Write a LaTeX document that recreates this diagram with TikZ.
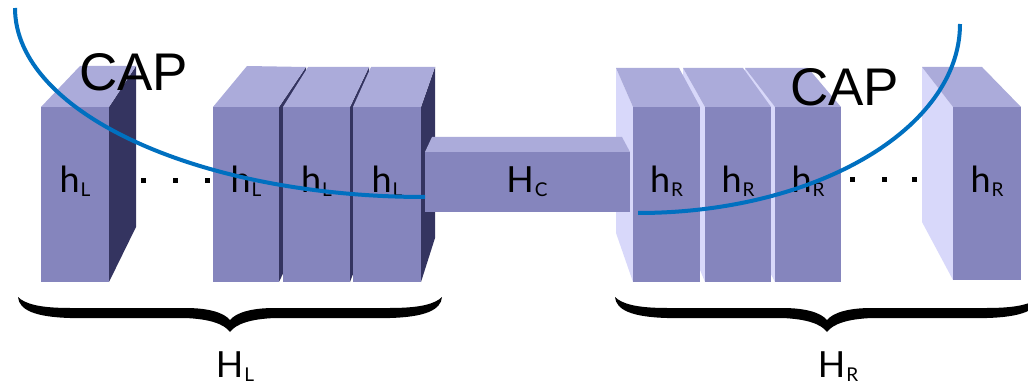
\documentclass[tikz,border=0pt]{standalone}
\usepackage{fontspec}
\setmainfont{Lato}
\newfontfamily\capfont{Liberation Sans}
\definecolor{frontc}{RGB}{133,133,189}
\definecolor{topc}{RGB}{171,171,218}
\definecolor{darkside}{RGB}{52,52,96}
\definecolor{lightside}{RGB}{216,216,250}
\definecolor{capblue}{RGB}{0,112,192}
\newcommand{\lbl}[2]{{\fontsize{36}{36}\selectfont #1\kern1pt\raisebox{-4pt}{\fontsize{19}{19}\selectfont #2}}}
\begin{document}
\begin{tikzpicture}[x=1pt,y=-1pt,
  frontface/.style={fill=frontc},
  topface/.style={fill=topc},
  dside/.style={fill=darkside},
  lside/.style={fill=lightside},
  lab/.style={anchor=base,inner sep=0pt},
  captext/.style={anchor=base west,inner sep=0pt,font=\capfont\fontsize{53}{53}\selectfont},
  capcurve/.style={draw=capblue,line width=4pt},
  dotsq/.style={fill=black},
  bracefill/.style={fill=black}]
\useasboundingbox (0,0) rectangle (1028,385);
% ---- left single block
\path[dside] (109,107)--(136,66)--(136,227)--(109,282)--cycle;
\path[topface] (41,107)--(109,107)--(136,66)--(80,66)--cycle;
\path[frontface] (41,107) rectangle (109,282);
% ---- left group
\path[dside] (279,107)--(306,67)--(306,225)--(279,282)--cycle;
\path[topface] (213,107)--(279,107)--(306,67)--(247,66)--cycle;
\path[frontface] (213,107) rectangle (279,282);
\path[dside] (350,107)--(369,67)--(369,232)--(350,282)--cycle;
\path[topface] (283,107)--(350,107)--(369,67)--(308,67)--cycle;
\path[frontface] (283,107) rectangle (350,282);
\path[dside] (421,107)--(435,67)--(435,238)--(421,282)--cycle;
\path[topface] (353,107)--(421,107)--(435,67)--(371,67)--cycle;
\path[frontface] (353,107) rectangle (421,282);
% ---- right group
\path[lside] (745,68)--(775,107)--(775,282)--(745,225)--cycle;
\path[topface] (775,107)--(841,107)--(808,68)--(745,68)--cycle;
\path[frontface] (775,107) rectangle (841,282);
\path[lside] (683,68)--(705,107)--(705,282)--(683,229)--cycle;
\path[topface] (705,107)--(771,107)--(743,68)--(683,68)--cycle;
\path[frontface] (705,107) rectangle (771,282);
\path[lside] (616,68)--(633,107)--(633,282)--(616,233)--cycle;
\path[topface] (633,107)--(700,107)--(679,68)--(616,68)--cycle;
\path[frontface] (633,107) rectangle (700,282);
% ---- right single block
\path[lside] (922,67)--(953,107)--(953,280)--(922,222)--cycle;
\path[topface] (953,107)--(1021,107)--(982,67)--(922,67)--cycle;
\path[frontface] (953,107) rectangle (1021,280);
% ---- centre block
\path[topface] (425,152)--(630,152)--(622,137)--(432,137)--cycle;
\path[frontface] (425,152) rectangle (630,212);
% ---- dots
\foreach \x in {143,175,207} \path[dotsq] (\x-2.5,177.5) rectangle (\x+2.5,182.5);
\foreach \x in {852,884,914} \path[dotsq] (\x-2.5,176.5) rectangle (\x+2.5,181.5);
% ---- labels
\node[lab] (hl1) at (75,193) {\lbl{h}{L}};
\node[lab] (hl2) at (246,193) {\lbl{h}{L}};
\node[lab] (hl3) at (316.5,193) {\lbl{h}{L}};
\node[lab] (hl4) at (387,193) {\lbl{h}{L}};
\node[lab] (hc) at (527,192) {\lbl{H}{C}};
\node[lab] (hr1) at (666.5,193) {\lbl{h}{R}};
\node[lab] (hr2) at (738,193) {\lbl{h}{R}};
\node[lab] (hr3) at (808,193) {\lbl{h}{R}};
\node[lab] (hr4) at (987,193) {\lbl{h}{R}};
\node[lab] (HL) at (235,377) {\lbl{H}{L}};
\node[lab] (HR) at (838,377) {\lbl{H}{R}};
% ---- braces
\foreach \cx in {230,827}{
\begin{scope}[shift={(\cx,332)}]
\path[bracefill] (-212,-35) .. controls (-211,-22) and (-195,-15) .. (-160,-14)
  -- (-45,-14) .. controls (-20,-13) and (-6,-8) .. (0,0)
  .. controls (6,-8) and (20,-13) .. (45,-14) -- (160,-14)
  .. controls (195,-15) and (211,-22) .. (212,-35)
  .. controls (205,-28) and (190,-24) .. (160,-24) -- (45,-24)
  .. controls (20,-24) and (6,-19) .. (0,-12)
  .. controls (-6,-19) and (-20,-24) .. (-45,-24) -- (-160,-24)
  .. controls (-190,-24) and (-205,-28) .. (-212,-35) -- cycle;
\end{scope}}
% ---- CAP texts
\node[captext] (capl) at (79,91) {CAP};
\node[captext] (capr) at (790,106) {CAP};
% ---- CAP curves
\coordinate (la) at (15,8);
\coordinate (lb) at (425,197);
\coordinate (ra) at (638,213);
\coordinate (rb) at (960,24);
\draw[capcurve] (la) .. controls (15,112.4) and (198.6,197) .. (lb);
\draw[capcurve] (ra) .. controls (815.8,213) and (960,128.4) .. (rb);
\end{tikzpicture}
\end{document}
